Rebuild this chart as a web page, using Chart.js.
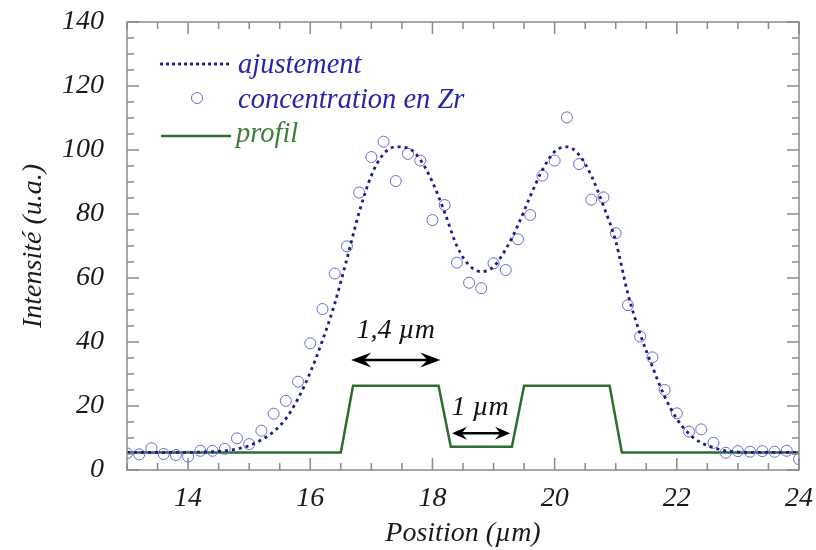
<!DOCTYPE html>
<html>
<head>
<meta charset="utf-8">
<title>Profil Zr</title>
<script src="https://cdn.jsdelivr.net/npm/chart.js@4.4.1/dist/chart.umd.min.js"></script>
<style>
  html, body { margin: 0; padding: 0; background: #fff; }
  #wrap { width: 816px; height: 550px; }
</style>
</head>
<body>
<div id="wrap"><canvas id="zrChart"></canvas></div>
<script>
// positions des mesures (µm)
const positions = [
  13.0, 13.2, 13.4, 13.6, 13.8, 14.0, 14.2, 14.4, 14.6, 14.8,
  15.0, 15.2, 15.4, 15.6, 15.8, 16.0, 16.2, 16.4, 16.6, 16.8,
  17.0, 17.2, 17.4, 17.6, 17.8, 18.0, 18.2, 18.4, 18.6, 18.8,
  19.0, 19.2, 19.4, 19.6, 19.8, 20.0, 20.2, 20.4, 20.6, 20.8,
  21.0, 21.2, 21.4, 21.6, 21.8, 22.0, 22.2, 22.4, 22.6, 22.8,
  23.0, 23.2, 23.4, 23.6, 23.8, 24.0
];

// concentration en Zr mesurée
const concentration = [
  5.2, 4.9, 6.8, 5.0, 4.7, 4.2, 6.0, 6.0, 6.6, 9.9,
  8.1, 12.3, 17.6, 21.6, 27.6, 39.6, 50.3, 61.4, 69.9, 86.7,
  97.8, 102.6, 90.3, 98.8, 96.7, 78.1, 82.8, 64.8, 58.5, 56.8,
  64.6, 62.5, 72.1, 79.7, 92.0, 96.7, 110.2, 95.6, 84.5, 85.2,
  74.0, 51.5, 41.7, 35.2, 25.0, 17.7, 12.0, 12.7, 8.5, 5.4,
  5.9, 5.7, 5.9, 5.7, 6.0, 3.4
];

// courbe d'ajustement aux mêmes positions
const ajustement = [
  5.5, 5.5, 5.5, 5.5, 5.5, 5.5, 5.6, 5.7, 6.0, 6.6,
  7.6, 9.4, 12.0, 16.0, 22.3, 30.5, 40.5, 52.0, 66.0, 80.5,
  92.0, 98.8, 101.0, 100.6, 97.0, 90.0, 80.5, 70.0, 64.0, 62.0,
  63.5, 69.0, 76.5, 85.5, 93.8, 99.5, 101.0, 98.5, 92.0, 82.5,
  71.5, 55.0, 42.5, 32.3, 23.0, 16.0, 11.3, 8.5, 7.0, 6.0,
  5.6, 5.5, 5.5, 5.5, 5.5, 5.5
];

// profil de composition (trapèzes)
const profilX = [13, 16.5, 16.7, 18.1, 18.3, 19.3, 19.5, 20.9, 21.1, 24];
const profilY = [5.5, 5.5, 26.3, 26.3, 7.3, 7.3, 26.3, 26.3, 5.5, 5.5];

const xTicks = [14, 16, 18, 20, 22, 24];
const yTicks = [0, 20, 40, 60, 80, 100, 120, 140];

// cotes : [début, fin, hauteur, libellé, x du texte, y du texte]
const cote14 = [16.67, 18.13, 34.4, "1,4 \u00b5m", 17.4, 43.5];
const cote1 = [18.32, 19.27, 11.5, "1 \u00b5m", 18.78, 19.4];

const serif = "'Liberation Serif', 'Times New Roman', serif";
const axisFont = { family: serif, size: 28, style: "italic" };

const fitColor = "#1c1c8f";
const dotColor = "#6a6ad2";
const profilColor = "#2f6c2f";

const pairs = (xs, ys) => xs.map((x, i) => ({ x: x, y: ys[i] }));

function arrowHead(ctx, x, y, dir, len, half) {
  ctx.beginPath();
  ctx.moveTo(x, y);
  ctx.lineTo(x + dir * len, y - half);
  ctx.lineTo(x + dir * len * 0.65, y);
  ctx.lineTo(x + dir * len, y + half);
  ctx.closePath();
  ctx.fill();
}

function drawCote(chart, c, len, half) {
  const { ctx, scales: { x, y } } = chart;
  const x1 = x.getPixelForValue(c[0]);
  const x2 = x.getPixelForValue(c[1]);
  const yy = y.getPixelForValue(c[2]);
  ctx.strokeStyle = "#000";
  ctx.fillStyle = "#000";
  ctx.lineWidth = 2.5;
  ctx.beginPath();
  ctx.moveTo(x1 + 6, yy);
  ctx.lineTo(x2 - 6, yy);
  ctx.stroke();
  arrowHead(ctx, x1, yy, 1, len, half);
  arrowHead(ctx, x2, yy, -1, len, half);
  ctx.fillStyle = "#111";
  ctx.font = "italic 28px " + serif;
  ctx.textAlign = "center";
  ctx.textBaseline = "middle";
  ctx.fillText(c[3], x.getPixelForValue(c[4]), y.getPixelForValue(c[5]));
}

// cadre, graduations intérieures, légende et cotes
const decorations = {
  id: "decorations",
  afterDatasetsDraw(chart) {
    const { ctx, chartArea: a, scales: { x, y } } = chart;
    ctx.save();

    ctx.strokeStyle = "#8a8a8a";
    ctx.lineWidth = 1.5;
    ctx.strokeRect(a.left, a.top, a.right - a.left, a.bottom - a.top);

    ctx.beginPath();
    for (let v = x.min; v <= x.max + 1e-9; v += 0.5) {
      const px = x.getPixelForValue(v);
      const len = Math.abs(v % 2) < 1e-9 ? 12 : 7;
      ctx.moveTo(px, a.bottom); ctx.lineTo(px, a.bottom - len);
      ctx.moveTo(px, a.top); ctx.lineTo(px, a.top + len);
    }
    for (let v = y.min; v <= y.max + 1e-9; v += 5) {
      const py = y.getPixelForValue(v);
      const len = v % 20 === 0 ? 12 : 7;
      ctx.moveTo(a.left, py); ctx.lineTo(a.left + len, py);
      ctx.moveTo(a.right, py); ctx.lineTo(a.right - len, py);
    }
    ctx.stroke();

    // légende
    ctx.font = "italic 28.5px " + serif;
    ctx.textAlign = "left";
    ctx.textBaseline = "middle";

    ctx.strokeStyle = fitColor;
    ctx.lineWidth = 2.8;
    ctx.setLineDash([3, 3]);
    ctx.beginPath(); ctx.moveTo(160, 64); ctx.lineTo(229, 64); ctx.stroke();
    ctx.setLineDash([]);
    ctx.fillStyle = "#2626a6";
    ctx.fillText("ajustement", 238, 66);

    ctx.strokeStyle = dotColor;
    ctx.lineWidth = 1;
    ctx.beginPath(); ctx.arc(197, 98, 5.5, 0, Math.PI * 2); ctx.stroke();
    ctx.fillText("concentration en Zr", 238, 101);

    ctx.strokeStyle = profilColor;
    ctx.lineWidth = 2.5;
    ctx.beginPath(); ctx.moveTo(161, 136); ctx.lineTo(231, 136); ctx.stroke();
    ctx.fillStyle = "#3b7f3b";
    ctx.fillText("profil", 236, 135);

    drawCote(chart, cote14, 20, 7.5);
    drawCote(chart, cote1, 15, 6.5);

    ctx.restore();
  }
};

new Chart(document.getElementById("zrChart"), {
  type: "scatter",
  data: {
    datasets: [
      {
        label: "profil",
        type: "line",
        data: pairs(profilX, profilY),
        borderColor: profilColor,
        borderWidth: 2.5,
        pointRadius: 0,
        tension: 0,
        fill: false,
        order: 3
      },
      {
        label: "concentration en Zr",
        data: pairs(positions, concentration),
        pointStyle: "circle",
        pointRadius: 5.5,
        pointBorderWidth: 1,
        borderColor: dotColor,
        backgroundColor: "rgba(0,0,0,0)",
        order: 2
      },
      {
        label: "ajustement",
        type: "line",
        data: pairs(positions, ajustement),
        borderColor: fitColor,
        borderWidth: 2.8,
        borderDash: [3, 4],
        pointRadius: 0,
        cubicInterpolationMode: "monotone",
        fill: false,
        order: 1
      }
    ]
  },
  options: {
    responsive: true,
    maintainAspectRatio: false,
    animation: false,
    layout: { padding: { top: 22, right: 17, left: 0, bottom: 0 } },
    plugins: {
      legend: { display: false },
      tooltip: { enabled: false }
    },
    scales: {
      x: {
        type: "linear",
        min: 13,
        max: 24,
        grid: { display: false },
        border: { display: false },
        afterBuildTicks: (scale) => { scale.ticks = xTicks.map(v => ({ value: v })); },
        afterFit: (scale) => {
          scale.height = 80;
          scale.paddingLeft = 0;
          scale.paddingRight = 0;
        },
        ticks: { font: axisFont, color: "#1a1a1a", padding: 4, maxRotation: 0 },
        title: {
          display: true,
          text: "Position (\u00b5m)",
          font: axisFont,
          color: "#1a1a1a",
          padding: { top: 0, bottom: 0 }
        }
      },
      y: {
        min: 0,
        max: 140,
        grid: { display: false },
        border: { display: false },
        afterBuildTicks: (scale) => { scale.ticks = yTicks.map(v => ({ value: v })); },
        afterFit: (scale) => {
          scale.width = 127;
          scale.paddingTop = 0;
          scale.paddingBottom = 0;
        },
        ticks: { font: axisFont, color: "#1a1a1a", padding: 15 },
        title: {
          display: true,
          text: "Intensit\u00e9 (u.a.)",
          font: axisFont,
          color: "#1a1a1a",
          padding: { top: 17, bottom: 0 }
        }
      }
    }
  },
  plugins: [decorations]
});
</script>
</body>
</html>
